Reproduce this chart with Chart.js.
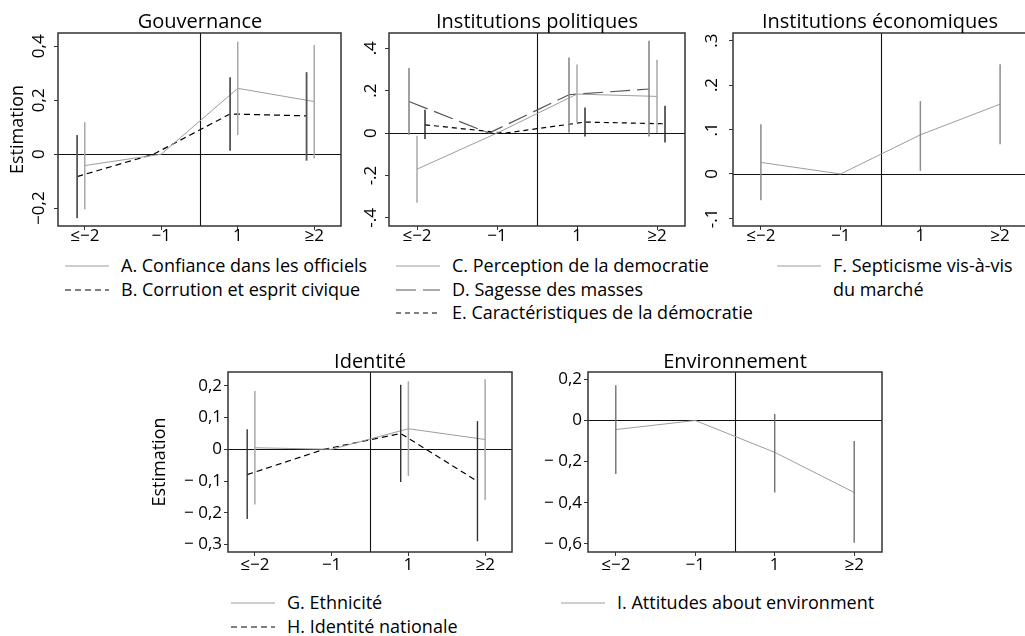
<!DOCTYPE html>
<html lang="fr">
<head>
<meta charset="utf-8">
<title>Estimations par domaine</title>
<script src="https://cdn.jsdelivr.net/npm/chart.js@4.4.1/dist/chart.umd.min.js"></script>
<style>
  html, body { margin: 0; padding: 0; background: #fff; width: 1025px; height: 636px; overflow: hidden; }
  body { position: relative; font-family: 'Open Sans', 'DejaVu Sans', sans-serif; color: #000; }
  canvas, .titre, .legende { position: absolute; }
  .titre { font-size: 20px; transform: translate(-50%, -50%); white-space: nowrap; }
  .legende { font-size: 18px; line-height: 23.5px; }
  .legende .item { display: flex; align-items: flex-start; white-space: pre-line; }
  .legende svg { flex: none; margin-top: 7px; margin-right: 12px; }
</style>
</head>
<body>

<canvas id="g1" width="345" height="250" style="left:0;top:0"></canvas>
<canvas id="g2" width="345" height="250" style="left:345px;top:0"></canvas>
<canvas id="g3" width="345" height="250" style="left:690px;top:0"></canvas>
<canvas id="g4" width="375" height="235" style="left:140px;top:340px"></canvas>
<canvas id="g5" width="360" height="235" style="left:530px;top:340px"></canvas>

<script>
// Catégories de l'axe horizontal
const categories = ['≤−2', '−1', '1', '≥2'];

// Gouvernance
const confianceOfficiels = [-0.042, 0, 0.244, 0.195];
const confianceBas = [-0.204, null, 0.071, -0.015];
const confianceHaut = [0.118, null, 0.417, 0.405];
const corruption = [-0.083, 0, 0.149, 0.142];
const corruptionBas = [-0.237, null, 0.013, -0.024];
const corruptionHaut = [0.071, null, 0.285, 0.304];
const ticksGouv = [-0.2, 0, 0.2, 0.4];
const labelsGouv = ['−0,2', '0', '0,2', '0,4'];

// Institutions politiques
const perception = [-0.170, 0, 0.184, 0.173];
const perceptionBas = [-0.328, null, 0.050, 0.0];
const perceptionHaut = [-0.013, null, 0.323, 0.346];
const sagesse = [0.149, 0, 0.181, 0.208];
const sagesseBas = [-0.008, null, 0.003, -0.016];
const sagesseHaut = [0.307, null, 0.357, 0.436];
const caracteristiques = [0.039, 0, 0.052, 0.044];
const caracteristiquesBas = [-0.028, null, -0.016, -0.044];
const caracteristiquesHaut = [0.110, null, 0.121, 0.129];
const ticksPol = [-0.4, -0.2, 0, 0.2, 0.4];
const labelsPol = ['-.4', '-.2', '0', '.2', '.4'];

// Institutions économiques
const septicisme = [0.026, 0, 0.088, 0.157];
const septicismeBas = [-0.059, null, 0.007, 0.067];
const septicismeHaut = [0.112, null, 0.164, 0.247];
const ticksEco = [-0.1, 0, 0.1, 0.2, 0.3];
const labelsEco = ['-.1', '0', '.1', '.2', '.3'];

// Identité
const ethnicite = [0.005, 0, 0.065, 0.031];
const ethniciteBas = [-0.174, null, -0.084, -0.160];
const ethniciteHaut = [0.184, null, 0.215, 0.221];
const identiteNat = [-0.080, 0, 0.050, -0.101];
const identiteNatBas = [-0.220, null, -0.103, -0.290];
const identiteNatHaut = [0.063, null, 0.204, 0.089];
const ticksIdent = [-0.3, -0.2, -0.1, 0, 0.1, 0.2];
const labelsIdent = ['− 0,3', '− 0,2', '− 0,1', '0', '0,1', '0,2'];

// Environnement
const environnement = [-0.044, 0, -0.155, -0.350];
const environnementBas = [-0.261, null, -0.350, -0.595];
const environnementHaut = [0.171, null, 0.032, -0.100];
const ticksEnv = [-0.6, -0.4, -0.2, 0, 0.2];
const labelsEnv = ['− 0,6', '− 0,4', '− 0,2', '0', '0,2'];

// Styles des séries
const gris = { ligne: '#9c9c9c', ep: 1, tirets: [], barre: '#a8a8a8', barreEp: 1.5 };
const tiretsNoirs = { ligne: '#000', ep: 1.2, tirets: [6, 4], barre: '#555', barreEp: 1.8 };
const tiretsLongs = { ligne: '#555', ep: 1.2, tirets: [20, 7], barre: '#888', barreEp: 1.6 };
const tiretsCourts = { ligne: '#000', ep: 1.2, tirets: [5, 4], barre: '#222', barreEp: 1.4 };
const grisBarreFoncee = { ligne: '#9c9c9c', ep: 1, tirets: [], barre: '#666', barreEp: 1.3 };

function serie(label, est, bas, haut, decal, style) {
  return {
    label: label,
    data: est.map((v, i) => ({ x: i + decal, y: v })),
    bas: bas, haut: haut, decal: decal, style: style,
    borderColor: style.ligne,
    borderWidth: style.ep,
    borderDash: style.tirets,
    pointRadius: 0,
    fill: false,
    tension: 0
  };
}

// Ligne zéro, séparation verticale, intervalles et cadre
const decor = {
  id: 'decor',
  beforeDatasetsDraw(chart) {
    const { ctx, chartArea: a, scales: { x, y } } = chart;
    const y0 = Math.round(y.getPixelForValue(0)) + 0.5;
    const x0 = Math.round(x.getPixelForValue(1.5)) + 0.5;
    ctx.save();
    ctx.strokeStyle = '#111';
    ctx.lineWidth = 1.1;
    ctx.beginPath();
    ctx.moveTo(a.left, y0); ctx.lineTo(a.right, y0);
    ctx.moveTo(x0, a.top); ctx.lineTo(x0, a.bottom);
    ctx.stroke();
    ctx.restore();
  },
  afterDatasetsDraw(chart) {
    const { ctx, chartArea: a, scales: { x, y } } = chart;
    ctx.save();
    chart.data.datasets.forEach(ds => {
      ctx.strokeStyle = ds.style.barre;
      ctx.lineWidth = ds.style.barreEp;
      ds.bas.forEach((lo, i) => {
        if (lo === null) return;
        const px = x.getPixelForValue(i + ds.decal);
        ctx.beginPath();
        ctx.moveTo(px, y.getPixelForValue(lo));
        ctx.lineTo(px, y.getPixelForValue(ds.haut[i]));
        ctx.stroke();
      });
    });
    ctx.strokeStyle = '#333';
    ctx.lineWidth = 1.5;
    ctx.strokeRect(a.left, a.top, a.right - a.left, a.bottom - a.top);
    ctx.restore();
  }
};

function graphique(id, series, g) {
  return new Chart(document.getElementById(id), {
    type: 'line',
    data: { datasets: series },
    plugins: [decor],
    options: {
      responsive: false,
      animation: false,
      events: [],
      layout: { padding: { left: 0, right: g.droite, top: g.haut, bottom: 0 } },
      plugins: { legend: { display: false }, tooltip: { enabled: false } },
      scales: {
        x: {
          type: 'linear', min: -0.35, max: 3.35,
          afterBuildTicks: s => { s.ticks = categories.map((c, i) => ({ value: i })); },
          afterFit: s => { s.height = g.hx; },
          ticks: {
            callback: (v, i) => categories[i],
            autoSkip: false, maxRotation: 0, padding: g.padX,
            color: '#000', font: { family: 'Open Sans', size: 17 }
          },
          grid: { drawOnChartArea: false, tickLength: 4, tickColor: '#333', tickWidth: 1 },
          border: { display: false }
        },
        y: {
          min: g.ymin, max: g.ymax,
          afterBuildTicks: s => { s.ticks = g.ticks.map(v => ({ value: v })); },
          afterFit: s => { s.width = g.ly; },
          ticks: {
            callback: (v, i) => g.labels[i],
            autoSkip: false,
            minRotation: g.rot, maxRotation: g.rot,
            crossAlign: g.rot ? 'center' : 'near',
            padding: g.pad,
            color: '#000', font: { family: 'Open Sans', size: 17 }
          },
          title: {
            display: !!g.titreY, text: 'Estimation', color: '#000',
            font: { family: 'Open Sans', size: 18 },
            padding: { top: g.padTitre || 0, bottom: 0 }
          },
          grid: { drawOnChartArea: false, tickLength: 4, tickColor: '#333', tickWidth: 1 },
          border: { display: false }
        }
      }
    }
  });
}

const sA = serie('A. Confiance dans les officiels', confianceOfficiels, confianceBas, confianceHaut, 0, gris);
const sB = serie('B. Corrution et esprit civique', corruption, corruptionBas, corruptionHaut, -0.1, tiretsNoirs);
const sC = serie('C. Perception de la democratie', perception, perceptionBas, perceptionHaut, 0, gris);
const sD = serie('D. Sagesse des masses', sagesse, sagesseBas, sagesseHaut, -0.1, tiretsLongs);
const sE = serie('E. Caractéristiques de la démocratie', caracteristiques, caracteristiquesBas, caracteristiquesHaut, 0.1, tiretsCourts);
const sF = serie('F. Septicisme vis-à-vis\ndu marché', septicisme, septicismeBas, septicismeHaut, 0, { ...gris, barre: '#8c8c8c' });
const sG = serie('G. Ethnicité', ethnicite, ethniciteBas, ethniciteHaut, 0, gris);
const sH = serie('H. Identité nationale', identiteNat, identiteNatBas, identiteNatHaut, -0.1, { ...tiretsNoirs, barre: '#333', barreEp: 1.4 });
const sI = serie('I. Attitudes about environment', environnement, environnementBas, environnementHaut, 0, grisBarreFoncee);

graphique('g1', [sA, sB], { droite: 4, haut: 33, hx: 24, padX: -4, ly: 58, ymin: -0.266, ymax: 0.449, ticks: ticksGouv, labels: labelsGouv, rot: 90, pad: -2, titreY: true, padTitre: 7 });
graphique('g2', [sC, sD, sE], { droite: 5, haut: 33, hx: 24, padX: -4, ly: 44, ymin: -0.438, ymax: 0.472, ticks: ticksPol, labels: labelsPol, rot: 90, pad: 4 });
graphique('g3', [sF], { droite: 7, haut: 33, hx: 24, padX: -4, ly: 43, ymin: -0.117, ymax: 0.317, ticks: ticksEco, labels: labelsEco, rot: 90, pad: 7 });
graphique('g4', [sG, sH], { droite: 3, haut: 32, hx: 23, padX: -1, ly: 88, ymin: -0.324, ymax: 0.244, ticks: ticksIdent, labels: labelsIdent, rot: 0, pad: 2, titreY: true, padTitre: 9 });
graphique('g5', [sI], { droite: 8, haut: 32, hx: 23, padX: -1, ly: 58, ymin: -0.64, ymax: 0.236, ticks: ticksEnv, labels: labelsEnv, rot: 0, pad: 2 });

// Titres des panneaux
[['Gouvernance', 200, 20], ['Institutions politiques', 537, 20], ['Institutions économiques', 880, 20],
 ['Identité', 370, 360], ['Environnement', 735, 360]].forEach(([t, x, y]) => {
  const d = document.createElement('div');
  d.className = 'titre';
  d.textContent = t;
  d.style.left = x + 'px';
  d.style.top = y + 'px';
  document.body.appendChild(d);
});

// Légendes sous chaque panneau
function legende(series, x, y) {
  const d = document.createElement('div');
  d.className = 'legende';
  d.style.left = x + 'px';
  d.style.top = y + 'px';
  series.forEach(s => {
    const st = s.style;
    const item = document.createElement('div');
    item.className = 'item';
    item.innerHTML = '<svg width="44" height="10"><line x1="0" y1="5" x2="44" y2="5" stroke="' + st.ligne +
      '" stroke-width="' + st.ep + '" stroke-dasharray="' +
      (st.tirets.length ? st.tirets.join(' ') : 'none') + '"/></svg>';
    const txt = document.createElement('span');
    txt.textContent = s.label;
    item.appendChild(txt);
    d.appendChild(item);
  });
  document.body.appendChild(d);
}
legende([sA, sB], 65, 254);
legende([sC, sD, sE], 396, 254);
legende([sF], 777, 254);
legende([sG, sH], 231, 591);
legende([sI], 561, 591);
</script>
</body>
</html>
